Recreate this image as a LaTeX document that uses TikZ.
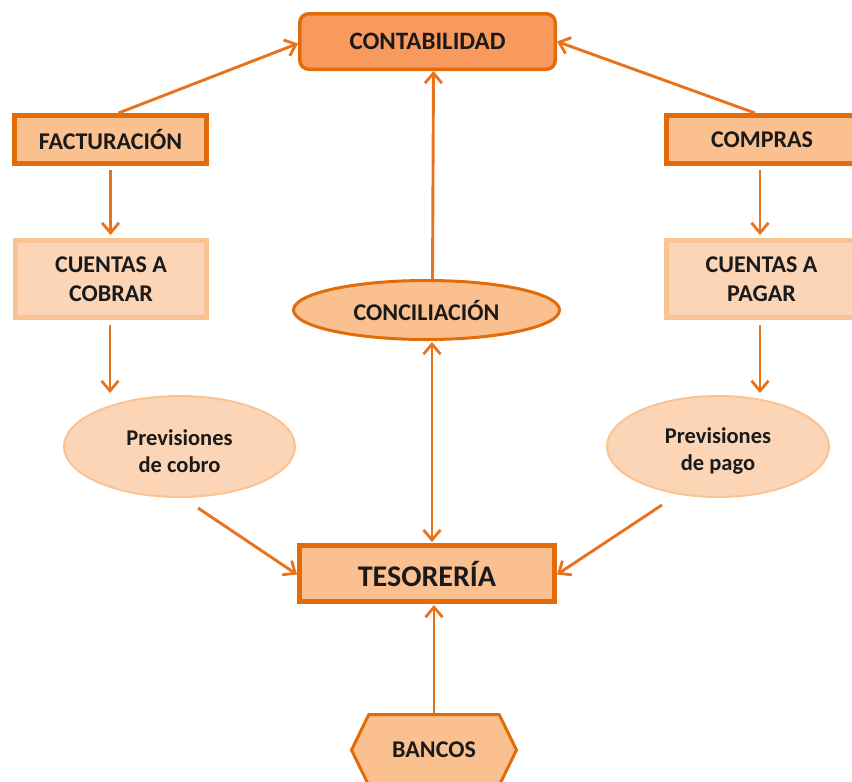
\documentclass[tikz,border=0pt]{standalone}
\usepackage{fontspec}
\setmainfont{Carlito}
\usetikzlibrary{arrows.meta,shapes.geometric,shapes.symbols,calc}
\definecolor{dorange}{HTML}{E36C0A}
\definecolor{arrcol}{HTML}{E8731C}
\definecolor{cfill}{HTML}{F89A5E}
\definecolor{mfill}{HTML}{FAC090}
\definecolor{lfill}{HTML}{FBD5B5}
\definecolor{lborder}{HTML}{F9C394}
\definecolor{txt}{HTML}{1A1A1A}
\tikzset{
  base/.style={font=\fontsize{24}{29}\selectfont\bfseries, text=txt, align=center, inner sep=0pt},
  topbox/.style={base, draw=dorange, fill=cfill, line width=3.5pt, rounded corners=9pt,
    minimum width=255.5pt, minimum height=55.5pt, font=\fontsize{25}{30}\selectfont\bfseries},
  midbox/.style={base, draw=dorange, fill=mfill, line width=5pt, minimum width=192pt, minimum height=48pt},
  lightbox/.style={base, draw=lborder, fill=lfill, line width=5pt, minimum width=191pt, minimum height=77pt},
  lightell/.style={base, ellipse, draw=lborder, fill=lfill, line width=2pt, minimum height=101pt,
    font=\fontsize{22.5}{27}\selectfont\bfseries},
  concell/.style={base, ellipse, draw=dorange, fill=mfill, line width=3pt, minimum width=266pt, minimum height=59pt},
  tesbox/.style={base, draw=dorange, fill=mfill, line width=5pt, minimum width=255pt, minimum height=56pt,
    font=\fontsize{30}{36}\selectfont\bfseries},
  hexa/.style={base, signal, signal to=west and east, signal pointer angle=128, draw=dorange, fill=mfill,
    line width=3pt, minimum width=165pt, minimum height=71pt},
  arr/.style={draw=arrcol, line width=2.9pt, -{Straight Barb[length=10pt,width=17pt,line width=2.8pt]}},
  darr/.style={draw=arrcol, line width=2.9pt, {Straight Barb[length=10pt,width=17pt,line width=2.8pt]}-{Straight Barb[length=10pt,width=17pt,line width=2.8pt]}}
}
\begin{document}
\begin{tikzpicture}[x=1pt,y=-1pt]
\useasboundingbox (0,0) rectangle (852,782);
\clip (0,0) rectangle (852,782);
\node[topbox] (cont) at (427.5,41.5) {CONTABILIDAD};
\node[midbox] (fact) at (110.5,139.5) {FACTURACIÓN};
\node[midbox] (comp) at (762,139.5) {COMPRAS};
\node[lightbox] (cobrar) at (111,279) {CUENTAS A\\COBRAR};
\node[lightbox] (pagar) at (761.5,279) {CUENTAS A\\PAGAR};
\node[lightell, minimum width=231pt] (pc) at (179.5,446.5) {\rule{0pt}{25pt}Previsiones\\de cobro};
\node[lightell, minimum width=222pt] (pp) at (718,446.5) {\rule{0pt}{25pt}Previsiones\\de pago};
\node[concell] (conc) at (426.5,310) {CONCILIACIÓN};
\node[tesbox] (tes) at (427,573.5) {TESORERÍA};
\node[hexa] (ban) at (434,750) {BANCOS};

\coordinate (pcs) at (198,508);
\coordinate (pps) at (662,505);
\coordinate (cobe) at (110,393);
\coordinate (page) at (760,393);

\draw[arr] ([xshift=8pt]fact.north) -- ([yshift=-2pt]cont.west);
\draw[arr] ([xshift=-7pt]comp.north) -- (cont.east);
\draw[arr] ([xshift=6pt]conc.north) -- ([xshift=6pt]cont.south);
\draw[arr, shorten <=4pt, shorten >=3pt] (fact.south) -- (fact.south |- cobrar.north);
\draw[arr, shorten <=4pt, shorten >=3pt] ([xshift=-2pt]comp.south) -- ([xshift=-2pt]comp.south |- pagar.north);
\draw[arr, shorten <=5pt] ([xshift=-1pt]cobrar.south) -- (cobe);
\draw[arr, shorten <=5pt] ([xshift=-1.5pt]pagar.south) -- (page);
\draw[arr] (pcs) -- ([yshift=-1pt]tes.west);
\draw[arr] (pps) -- ([yshift=-1pt]tes.east);
\draw[darr, shorten <=1pt, shorten >=1pt] ([xshift=5.5pt]conc.south) -- ([xshift=5.5pt]conc.south |- tes.north);
\draw[arr, shorten >=1pt] (ban.north) -- (ban.north |- tes.south);
\end{tikzpicture}
\end{document}
